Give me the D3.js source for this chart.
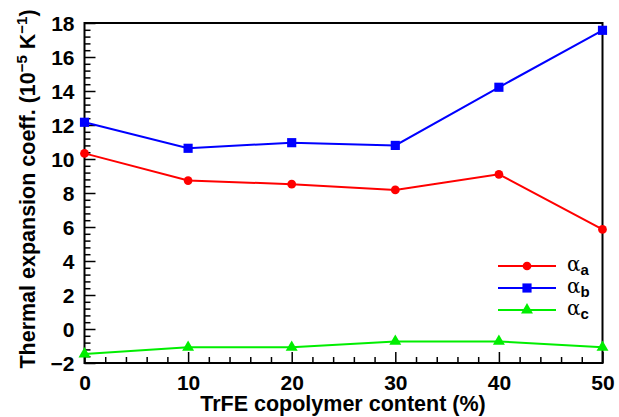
<!DOCTYPE html>
<html>
<head>
<meta charset="utf-8">
<script src="https://cdn.jsdelivr.net/npm/d3@7"></script>
<style>
  body { margin: 0; background: #fff; }
  text { font-family: "Liberation Sans", Arial, sans-serif; font-weight: bold; }
</style>
</head>
<body>
<svg id="chart"></svg>
<script>
// data
const trfe = [0, 10, 20, 30, 40, 50];
const alphaA = [10.33, 8.73, 8.52, 8.18, 9.1, 5.86];
const alphaB = [12.16, 10.63, 10.96, 10.8, 14.22, 17.57];
const alphaC = [-1.47, -1.08, -1.08, -0.73, -0.73, -1.08];
const xTicks = [0, 10, 20, 30, 40, 50];
const yTicks = [-2, 0, 2, 4, 6, 8, 10, 12, 14, 16, 18];

const width = 619, height = 417;
const margin = { left: 84.5, right: 16.5, top: 23, bottom: 54 };

const svg = d3.select('#chart')
  .attr('width', width)
  .attr('height', height);

const x = d3.scaleLinear().domain([0, 50]).range([margin.left, width - margin.right]);
const y = d3.scaleLinear().domain([-2, 18]).range([height - margin.bottom, margin.top]);

// minor ticks, inward
const xMinor = d3.range(0, 50.01, 2).filter(v => v % 10 !== 0);
const yMinor = d3.range(-2, 18.01, 0.4).filter(v => Math.abs(v / 2 - Math.round(v / 2)) > 0.01);

svg.append('g')
  .attr('transform', `translate(0,${y(-2)})`)
  .call(d3.axisBottom(x).tickValues(xMinor).tickSize(-6).tickFormat(''))
  .call(g => g.select('.domain').remove())
  .call(g => g.selectAll('line').attr('stroke-width', 1.5));

svg.append('g')
  .attr('transform', `translate(${x(0)},0)`)
  .call(d3.axisLeft(y).tickValues(yMinor).tickSize(-6).tickFormat(''))
  .call(g => g.select('.domain').remove())
  .call(g => g.selectAll('line').attr('stroke-width', 1.5));

// major ticks + labels
const xAxis = svg.append('g')
  .attr('transform', `translate(0,${y(-2)})`)
  .call(d3.axisBottom(x).tickValues(xTicks).tickSize(-11).tickPadding(27).tickFormat(d3.format('d')));
xAxis.select('.domain').remove();
xAxis.selectAll('line').attr('stroke-width', 1.5);
xAxis.selectAll('text').attr('font-size', 21).attr('fill', '#000').attr('dy', 0);

const yAxis = svg.append('g')
  .attr('transform', `translate(${x(0)},0)`)
  .call(d3.axisLeft(y).tickValues(yTicks).tickSize(-11).tickPadding(10)
    .tickFormat(d => d < 0 ? '\u2212' + Math.abs(d) : d));
yAxis.select('.domain').remove();
yAxis.selectAll('line').attr('stroke-width', 1.5);
yAxis.selectAll('text').attr('font-size', 21).attr('fill', '#000').attr('dy', '0.36em');

// frame
svg.append('rect')
  .attr('x', x(0)).attr('y', y(18))
  .attr('width', x(50) - x(0)).attr('height', y(-2) - y(18))
  .attr('fill', 'none').attr('stroke', '#000').attr('stroke-width', 2);

const series = [
  { name: 'a', values: alphaA, color: '#ff0000', marker: d3.symbolCircle, size: 60 },
  { name: 'b', values: alphaB, color: '#0000ff', marker: d3.symbolSquare, size: 84 },
  { name: 'c', values: alphaC, color: '#00ee00', marker: d3.symbolTriangle, size: 62 }
];

const line = d3.line().x(d => x(d[0])).y(d => y(d[1]));

series.forEach(s => {
  const pts = trfe.map((t, i) => [t, s.values[i]]);
  svg.append('path')
    .datum(pts)
    .attr('d', line)
    .attr('fill', 'none')
    .attr('stroke', s.color)
    .attr('stroke-width', 2);
  svg.selectAll(null)
    .data(pts)
    .enter()
    .append('path')
    .attr('d', d3.symbol().type(s.marker).size(s.size))
    .attr('transform', d => `translate(${x(d[0])},${y(d[1])})`)
    .attr('fill', s.color);
});

// legend
const legend = svg.append('g').attr('transform', 'translate(498,266)');
series.forEach((s, i) => {
  const g = legend.append('g').attr('transform', `translate(0,${i * 22})`);
  g.append('line').attr('x1', 0).attr('x2', 58).attr('stroke', s.color).attr('stroke-width', 2);
  g.append('path').attr('d', d3.symbol().type(s.marker).size(s.size))
    .attr('transform', 'translate(29,0)').attr('fill', s.color);
  const t = g.append('text').attr('x', 69).attr('y', 5).attr('font-size', 20);
  t.append('tspan').text('\u03b1').attr('font-weight', 'normal')
    .attr('font-family', '"DejaVu Serif", serif');
  t.append('tspan').text(s.name).attr('font-size', 15).attr('dy', 4);
});

// axis titles
svg.append('text')
  .attr('x', (x(0) + x(50)) / 2 - 0.5)
  .attr('y', 411)
  .attr('text-anchor', 'middle')
  .attr('font-size', 21.5)
  .text('TrFE copolymer content (%)');

const yt = svg.append('text')
  .attr('transform', `translate(35,${(y(-2) + y(18)) / 2 - 4}) rotate(-90)`)
  .attr('text-anchor', 'middle')
  .attr('font-size', 21.5);
yt.append('tspan').text('Thermal expansion coeff. (10');
yt.append('tspan').text('\u22125').attr('font-size', 15).attr('dy', -8);
yt.append('tspan').text(' K').attr('dy', 8);
yt.append('tspan').text('\u22121').attr('font-size', 15).attr('dy', -8);
yt.append('tspan').text(')').attr('dy', 8);
</script>
</body>
</html>
